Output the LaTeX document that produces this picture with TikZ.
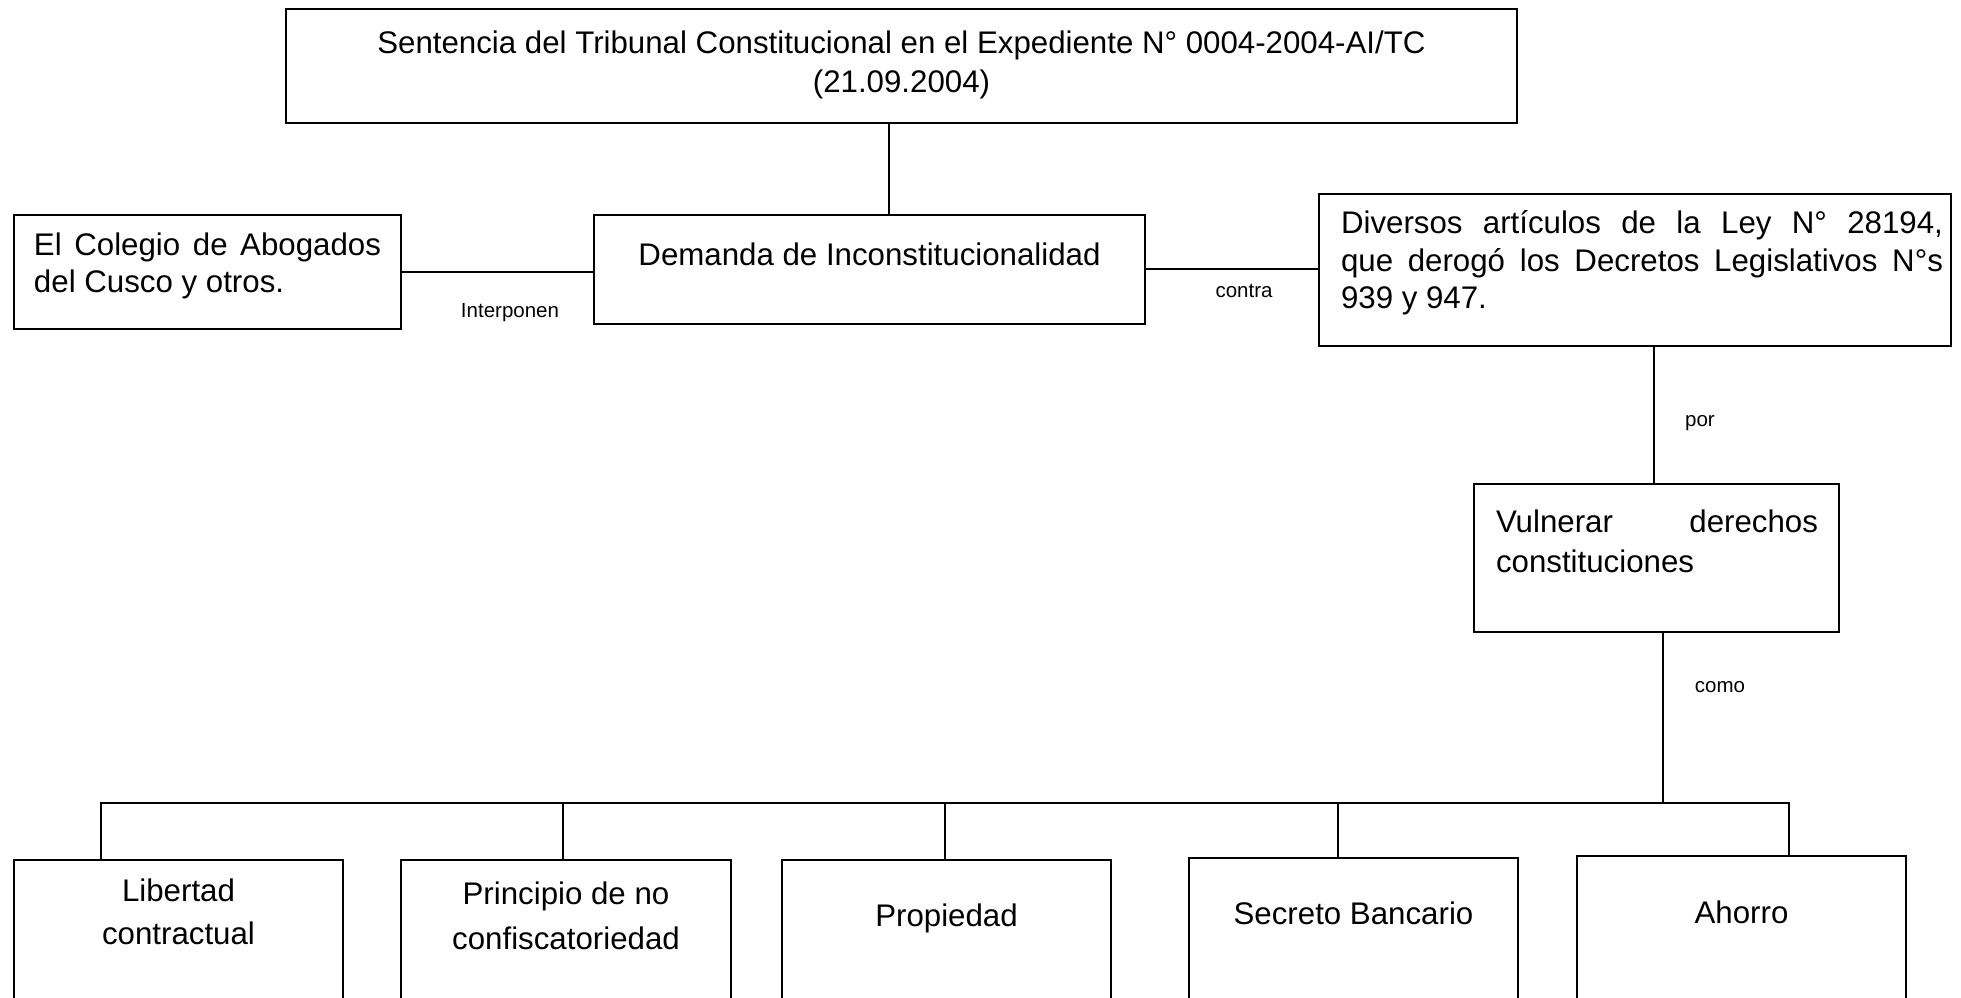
\documentclass[tikz,border=0pt]{standalone}
\usepackage{fontspec}
\setmainfont{Liberation Sans}
\newcommand\jl[1]{\hbox to \dimexpr\linewidth-\leftskip-\rightskip\relax{\spaceskip=.278em plus 1fil\relax #1}}
% height, width, left pad, right pad, content
\newcommand\bxt[5]{\parbox[t][#1][t]{#2}{\leftskip=#3\rightskip=#4\relax #5}}
\tikzset{
  box/.style={draw, line width=0.8pt, inner sep=0pt, anchor=north west,
              font=\fontsize{12.5}{15}\selectfont},
  lbl/.style={font=\fontsize{8.2}{10}\selectfont, anchor=base, inner sep=0pt},
  conn/.style={line width=0.8pt},
}
\begin{document}
\begin{tikzpicture}[x=0.4pt, y=-0.4pt]
\useasboundingbox (0,0) rectangle (1961,998);
\clip (0,0) rectangle (1961,998);

% boxes
\node[box] (top) at (285,8) {\bxt{45.6pt}{492.4pt}{0pt}{0pt}{\centering\baselineskip=15.6pt
  \rule{0pt}{18pt}Sentencia del Tribunal Constitucional en el Expediente N° 0004-2004-AI/TC\\(21.09.2004)}};
\node[box] (col) at (13,214) {\bxt{45.6pt}{154.8pt}{8pt}{8pt}{\baselineskip=14.8pt
  \rule{0pt}{16.4pt}\jl{El Colegio de Abogados}\\del Cusco y otros.}};
\node[box] (dem) at (593,214) {\bxt{43.6pt}{220.4pt}{0pt}{0pt}{\centering
  \rule{0pt}{20.4pt}Demanda de Inconstitucionalidad}};
\node[box] (div) at (1318,193) {\bxt{60.8pt}{252.8pt}{8.8pt}{3.2pt}{\baselineskip=15pt
  \rule{0pt}{16pt}\jl{Diversos artículos de la Ley N° 28194,}\\\jl{que derogó los Decretos Legislativos N°s}\\939 y 947.}};
\node[box] (vul) at (1473,483) {\bxt{59.2pt}{146pt}{8.8pt}{8.4pt}{\baselineskip=16pt
  \rule{0pt}{19.6pt}\jl{Vulnerar derechos}\\constituciones}};

\node[box] (b1) at (13,859) {\bxt{57.6pt}{131.6pt}{0pt}{0pt}{\centering\baselineskip=17.2pt
  \rule{0pt}{16.4pt}Libertad\\contractual}};
\node[box] (b2) at (400,859) {\bxt{57.6pt}{132pt}{0pt}{0pt}{\centering\baselineskip=18pt
  \rule{0pt}{17.6pt}Principio de no\\confiscatoriedad}};
\node[box] (b3) at (781,859) {\bxt{57.6pt}{131.6pt}{0pt}{0pt}{\centering
  \rule{0pt}{26.4pt}Propiedad}};
\node[box] (b4) at (1188,857) {\bxt{58.4pt}{131.6pt}{0pt}{0pt}{\centering
  \rule{0pt}{26.4pt}Secreto Bancario}};
\node[box] (b5) at (1576,855) {\bxt{59.2pt}{131.6pt}{0pt}{0pt}{\centering
  \rule{0pt}{26.8pt}Ahorro}};

% labels
\node[lbl] (l1) at (510,318) {Interponen};
\node[lbl] (l2) at (1244,298) {contra};
\node[lbl] (l3) at (1700,427) {por};
\node[lbl] (l4) at (1720,693) {como};

% connectors
\coordinate (bus) at (0,803);
\draw[conn] ([xshift=-5pt]top.south) -- ([xshift=-5pt]top.south |- dem.north);
\draw[conn] (col.east) -- (col.east -| dem.west);
\draw[conn] (dem.east) -- (dem.east -| div.west);
\draw[conn] ([xshift=-1pt]vul.north |- div.south) -- ([xshift=-1pt]vul.north);
\draw[conn] ([xshift=2.6pt]vul.south) -- ([xshift=2.6pt]vul.south |- bus);
\draw[conn] ([xshift=-31pt]b1.north) -- ([xshift=-31pt]b1.north |- bus)
   -- ([xshift=19pt]b5.north |- bus) -- ([xshift=19pt]b5.north);
\draw[conn] ([xshift=-1.2pt]b2.north) -- ([xshift=-1.2pt]b2.north |- bus);
\draw[conn] ([xshift=-0.6pt]b3.north) -- ([xshift=-0.6pt]b3.north |- bus);
\draw[conn] ([xshift=-6.2pt]b4.north) -- ([xshift=-6.2pt]b4.north |- bus);
\end{tikzpicture}
\end{document}
